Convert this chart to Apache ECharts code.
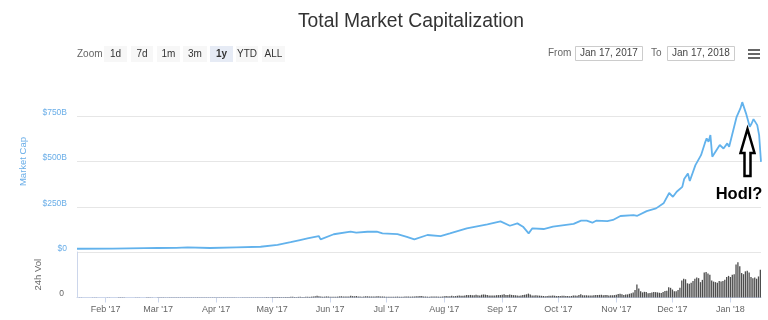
<!DOCTYPE html>
<html><head><meta charset="utf-8">
<script src="https://cdn.jsdelivr.net/npm/echarts@6/dist/echarts.min.js"></script>
<style>html,body{margin:0;padding:0;background:#fff}#c{width:768px;height:320px}</style>
</head><body><div id="c"></div>
<script>
// Market cap ($B)
const capDates = ['2017-01-17','2017-02-05','2017-02-22','2017-03-01','2017-03-11','2017-03-17','2017-03-29','2017-04-12','2017-04-25','2017-05-04','2017-05-11','2017-05-16','2017-05-20','2017-05-26','2017-05-27','2017-06-03','2017-06-12','2017-06-15','2017-06-21','2017-06-26','2017-06-29','2017-07-07','2017-07-12','2017-07-16','2017-07-23','2017-07-30','2017-08-04','2017-08-13','2017-08-24','2017-08-31','2017-09-05','2017-09-09','2017-09-12','2017-09-15','2017-09-17','2017-09-23','2017-09-28','2017-10-04','2017-10-09','2017-10-13','2017-10-16','2017-10-19','2017-10-21','2017-10-27','2017-10-30','2017-11-03','2017-11-10','2017-11-12','2017-11-17','2017-11-22','2017-11-26','2017-11-29','2017-12-01','2017-12-03','2017-12-06','2017-12-07','2017-12-09','2017-12-10','2017-12-13','2017-12-16','2017-12-18','2017-12-19','2017-12-20','2017-12-21','2017-12-22','2017-12-23','2017-12-26','2017-12-28','2017-12-30','2017-12-31','2018-01-02','2018-01-04','2018-01-06','2018-01-07','2018-01-09','2018-01-11','2018-01-12','2018-01-13','2018-01-15','2018-01-16','2018-01-17'];
const capValues = [18,19,21,22,23,25,22,26,29,39,54,66,75,88,70,98,112,107,112,112,103,99,84,70,94,88,103,131,153,169,145,158,140,103,131,127,140,149,155,173,173,162,173,171,177,199,204,200,226,241,269,326,305,333,360,403,434,392,480,535,600,628,609,646,526,535,591,572,600,581,664,747,793,828,766,692,710,734,701,646,498];

// 24h volume ($B), one value per day from 2017-01-17 to 2018-01-17
const volStartDate = '2017-01-17';
const volValues = [
 0.2,0.2,0.2,0.2,0.2,0.1,0.1,0.2,0.2,0.2,0.2,0.1,0.1,0.2,0.2,
 0.2,0.2,0.2,0.2,0.2,0.2,0.2,0.3,0.3,0.4,0.3,0.2,0.2,0.2,0.2,0.2,0.2,0.2,0.2,0.2,0.2,0.2,0.3,0.3,0.3,0.2,0.2,0.2,
 0.3,0.3,0.4,0.3,0.3,0.3,0.3,0.4,0.4,0.6,0.4,0.4,0.4,0.4,0.5,0.5,0.6,0.6,0.5,0.4,0.4,0.5,0.4,0.6,0.5,0.4,0.4,0.4,0.4,0.4,0.4,
 0.4,0.4,0.4,0.5,0.5,0.4,0.4,0.3,0.3,0.4,0.4,0.3,0.3,0.3,0.3,0.3,0.3,0.4,0.3,0.4,0.4,0.4,0.3,0.4,0.5,0.6,0.6,0.7,0.6,0.5,
 0.7,0.8,0.8,0.9,0.9,0.7,0.7,0.9,1.0,0.9,1.1,1.2,0.9,0.7,1.1,1.1,1.0,1.0,1.2,1.2,1.1,1.5,1.9,2.3,2.9,2.3,1.9,1.4,1.5,1.9,1.7,
 1.5,1.5,1.3,1.3,1.5,2.0,2.2,1.8,1.6,1.6,1.6,2.9,2.4,2.1,2.7,1.9,1.7,1.5,1.6,2.2,2.1,1.8,1.6,1.7,1.8,2.0,2.3,1.7,1.8,1.6,
 1.4,1.5,1.4,1.5,1.5,1.4,1.6,1.3,1.3,1.5,1.8,1.9,1.6,1.5,1.7,1.9,2.4,2.1,2.5,2.6,1.9,1.7,1.5,1.5,1.6,1.7,1.7,1.7,1.5,1.4,1.7,
 2.4,2.6,2.2,2.3,2.9,2.2,2.5,3.1,3.3,3.0,3.1,3.3,4.3,4.1,4.5,3.8,4.0,4.7,4.1,3.5,4.8,5.3,5.0,4.2,3.7,3.3,3.5,3.6,4.1,4.2,4.3,
 5.0,5.5,4.6,4.5,5.2,4.6,4.1,4.0,3.4,3.2,3.6,4.2,4.8,5.6,6.8,5.4,3.5,3.3,3.8,3.4,3.3,3.0,2.6,2.3,2.8,2.9,3.2,3.3,3.1,2.5,
 2.5,2.6,3.0,2.9,2.6,2.5,2.2,2.7,3.4,3.5,3.2,4.6,5.5,4.1,3.8,3.9,3.6,3.7,3.6,4.0,4.5,4.3,4.6,4.8,3.8,4.5,4.3,3.6,3.8,3.9,4.2,
 4.8,6.3,6.8,5.5,4.6,5.3,5.5,6.5,7.5,9.0,13.0,23.0,16.0,11.0,9.0,10.0,9.5,7.5,7.8,9.0,9.5,9.4,9.0,8.2,8.1,9.5,11.5,12.0,18.0,17.0,
 14,11,11,13,17,30,33,32,25,24,26,29,33,35,34,27,31,44,45,42,40,30,28,27,26,29,28,29,31,36,38,
 36,40,41,58,62,55,43,41,46,47,44,36,34,35,33,37,49
];

const yTickValues = [0, 250, 500, 750];
const monthNames = ['Jan','Feb','Mar','Apr','May','Jun','Jul','Aug','Sep','Oct','Nov','Dec'];
const zoomButtons = ['1d','7d','1m','3m','1y','YTD','ALL'];
const selectedButton = '1y';
const rangeFrom = 'Jan 17, 2017';
const rangeTo = 'Jan 17, 2018';

const DAY = 86400000;
function ts(s){ const p = s.split('-').map(Number); return Date.UTC(p[0], p[1]-1, p[2]); }
const capData = capDates.map((d,i) => [ts(d), capValues[i]]);
const volData = volValues.map((v,i) => [ts(volStartDate) + i*DAY, v]);
const xMin = ts('2017-01-17'), xMax = ts('2018-01-17');

const FONT = 'Liberation Sans, Arial, sans-serif';
const chart = echarts.init(document.getElementById('c'), null, {renderer:'canvas'});

// toolbar graphics
const g = [];
g.push({type:'text', x: 411, y: 22, style:{text:'Total Market Capitalization', fontSize:19.3, fill:'#333333', align:'center', verticalAlign:'middle', fontFamily:FONT}});
g.push({type:'text', x: 77, y: 54.5, style:{text:'Zoom', fontSize:10, fill:'#666666', verticalAlign:'middle', fontFamily:FONT}});
const btnX = [104,131,157,183,210,236,262];
const btnW = [23,22,23,24,23,22,23];
zoomButtons.forEach((b,i) => {
  const sel = b === selectedButton;
  g.push({type:'rect', shape:{x:btnX[i], y:46, width:btnW[i], height:16, r:0}, style:{fill: sel ? '#e6ebf5' : '#f7f7f7'}});
  g.push({type:'text', x: btnX[i] + btnW[i]/2, y: 54, style:{text:b, fontSize:10, fill:'#333333', fontWeight: sel ? 'bold':'normal', align:'center', verticalAlign:'middle', fontFamily:FONT}});
});
g.push({type:'text', x: 548, y: 53.5, style:{text:'From', fontSize:10, fill:'#666666', verticalAlign:'middle', fontFamily:FONT}});
g.push({type:'rect', shape:{x:575.5, y:46.5, width:67, height:14}, style:{fill:'#fff', stroke:'#cccccc', lineWidth:1}});
g.push({type:'text', x: 580, y: 53.5, style:{text:rangeFrom, fontSize:10, fill:'#444444', verticalAlign:'middle', fontFamily:FONT}});
g.push({type:'text', x: 651, y: 53.5, style:{text:'To', fontSize:10, fill:'#666666', verticalAlign:'middle', fontFamily:FONT}});
g.push({type:'rect', shape:{x:667.5, y:46.5, width:67, height:14}, style:{fill:'#fff', stroke:'#cccccc', lineWidth:1}});
g.push({type:'text', x: 672, y: 53.5, style:{text:rangeTo, fontSize:10, fill:'#444444', verticalAlign:'middle', fontFamily:FONT}});
[50,54,58].forEach(yy => g.push({type:'rect', shape:{x:748, y:yy-1, width:12, height:2}, style:{fill:'#666666'}}));
// annotation
g.push({type:'polygon', shape:{points:[[747.5,129],[754.5,153],[750.5,153],[750.5,176],[744.5,176],[744.5,153],[740.5,153]]}, style:{fill:'#ffffff', stroke:'#000000', lineWidth:2.5, lineJoin:'miter'}, z:100});
g.push({type:'text', x: 739, y: 194, style:{text:'Hodl?', fontSize:16.5, fontWeight:'bold', fill:'#000000', align:'center', verticalAlign:'middle', fontFamily:FONT}, z:100});

const option = {
  useUTC: true,
  animation: false,
  backgroundColor: '#ffffff',
  graphic: g,
  grid: [
    {left: 77, right: 7, top: 71, bottom: 68},
    {left: 77, right: 7, top: 252, bottom: 22.5}
  ],
  xAxis: [
    {type:'time', gridIndex:0, min:xMin, max:xMax, show:false, splitLine:{show:false}},
    {type:'time', gridIndex:1, min:xMin, max:xMax, minInterval: 28*DAY, maxInterval: 31*DAY,
     axisLine:{lineStyle:{color:'#ccd6eb', width:1}},
     axisTick:{show:true, length:5, lineStyle:{color:'#ccd6eb'}},
     splitLine:{show:false},
     axisLabel:{color:'#666666', fontSize:9, fontFamily:FONT, margin:8, showMinLabel:false, showMaxLabel:false,
       formatter: v => { const d = new Date(v); return monthNames[d.getUTCMonth()] + " '" + String(d.getUTCFullYear()).slice(2); }}
    }
  ],
  yAxis: [
    {type:'value', gridIndex:0, min:0, max:1000, interval:250,
     name:'Market Cap', nameLocation:'middle', nameGap:49, nameRotate:90,
     nameTextStyle:{color:'#6aaee8', fontSize:9.5, fontFamily:FONT},
     axisLine:{show:false}, axisTick:{show:false},
     splitLine:{show:true, showMaxLine:false, lineStyle:{color:'#e6e6e6', width:1}},
     axisLabel:{color:'#6aaee8', fontSize:8.5, fontFamily:FONT, margin:10, showMaxLabel:false, verticalAlign:'bottom', lineHeight:7,
       formatter: v => v === 0 ? '$0' : '$' + v + 'B'}
    },
    {type:'value', gridIndex:1, min:0, max:80, interval:80,
     name:'24h Vol', nameLocation:'middle', nameGap:34, nameRotate:90,
     nameTextStyle:{color:'#666666', fontSize:9.5, fontFamily:FONT},
     axisLine:{show:true, lineStyle:{color:'#ccd6eb'}}, axisTick:{show:false},
     splitLine:{show:true, showMinLine:false, lineStyle:{color:'#e6e6e6', width:1}},
     axisLabel:{color:'#666666', fontSize:8.5, fontFamily:FONT, margin:13, showMaxLabel:false, verticalAlign:'bottom', lineHeight:8}
    }
  ],
  series: [
    {type:'line', name:'Market Cap', xAxisIndex:0, yAxisIndex:0, data:capData, showSymbol:false, symbol:'none',
     lineStyle:{color:'#62b2ec', width:1.8}, z:5},
    {type:'bar', name:'24h Vol', xAxisIndex:1, yAxisIndex:1, data:volData, barWidth:1.3,
     itemStyle:{color:'#4d4d4d'}}
  ]
};
chart.setOption(option);
</script></body></html>
